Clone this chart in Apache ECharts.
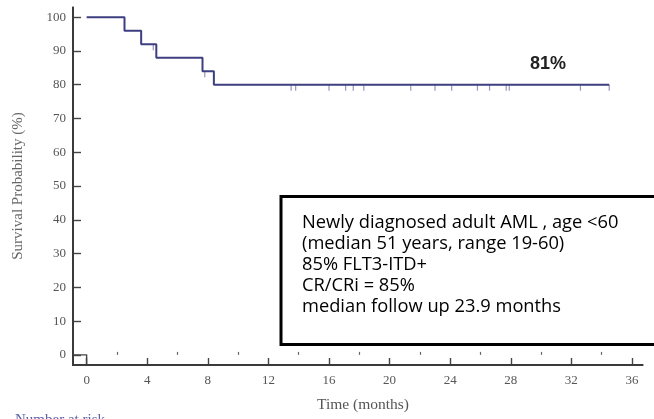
<!DOCTYPE html>
<html>
<head>
<meta charset="utf-8">
<script src="https://cdn.jsdelivr.net/npm/echarts@6/dist/echarts.min.js"></script>
<style>
html,body{margin:0;padding:0;background:#fff;}
#chart{width:654px;height:419px;}
</style>
</head>
<body>
<div id="chart"></div>
<script>
// Kaplan-Meier step data (months, survival %)
const kmTimes = [0, 2.5, 3.6, 4.6, 7.65, 8.4, 34.5];
const kmSurvival = [100, 96, 92, 88, 84, 80, 80];
// Censored observations (months)
const censorTimes = [4.4, 7.8, 13.5, 13.8, 16.0, 17.1, 17.6, 18.3, 21.4, 23.0, 24.1, 25.8, 26.6, 27.7, 27.9, 32.6, 34.5];
// Axis ticks
const xMajorTicks = [0, 4, 8, 12, 16, 20, 24, 28, 32, 36];
const xMinorTicks = [2, 6, 10, 14, 18, 22, 26, 30, 34];
const yTicks = [0, 10, 20, 30, 40, 50, 60, 70, 80, 90, 100];
const annotationLines = [
  'Newly diagnosed adult AML , age <60',
  '(median 51 years, range 19-60)',
  '85% FLT3-ITD+',
  'CR/CRi = 85%',
  'median follow up 23.9 months'
];
const finalLabel = '81%';

function levelAt(t) {
  let v = kmSurvival[0];
  for (let i = 0; i < kmTimes.length; i++) if (kmTimes[i] <= t) v = kmSurvival[i];
  return v;
}
const kmData = kmTimes.map((t, i) => [t, kmSurvival[i]]);
const censorData = censorTimes.map(t => [t, levelAt(t)]);
const xMin = -0.9, xMax = 36.73, yMin = -3, yMax = 103;
const originBracket = [[xMin, 0], [0, 0], [0, yMin]];

// fit box font to the reference text width
const cv = document.createElement('canvas').getContext('2d');
cv.font = '100px "Open Sans"';
const boxFont = Math.round(100 * 316 / cv.measureText(annotationLines[0]).width * 10) / 10;

const axisColor = '#444';
const serif = '"Liberation Serif", "DejaVu Serif", serif';
const chart = echarts.init(document.getElementById('chart'), null, {renderer: 'canvas'});
chart.setOption({
  animation: false,
  backgroundColor: '#fff',
  grid: {left: 73, right: 11, top: 7, bottom: 54, outerBoundsMode: 'none', containLabel: false},
  xAxis: [{
    type: 'value', min: xMin, max: xMax,
    name: 'Time (months)', nameLocation: 'middle', nameGap: 32,
    nameTextStyle: {fontFamily: serif, fontSize: 15.5, color: '#555', padding: [0, 0, 0, 10]},
    axisLine: {show: true, onZero: false, lineStyle: {color: axisColor, width: 1.6}},
    axisTick: {show: true, inside: true, length: 7, customValues: xMajorTicks, lineStyle: {color: axisColor, width: 1.4}},
    axisLabel: {customValues: xMajorTicks, fontFamily: serif, fontSize: 13, color: '#555', margin: 9},
    splitLine: {show: false}
  }, {
    type: 'value', min: xMin, max: xMax, position: 'bottom',
    axisLine: {show: false},
    axisTick: {show: true, inside: true, length: 3, customValues: xMinorTicks, lineStyle: {color: '#666', width: 1.2}},
    axisLabel: {show: false},
    splitLine: {show: false}
  }],
  yAxis: {
    type: 'value', min: yMin, max: yMax,
    name: 'Survival Probability (%)', nameLocation: 'middle', nameGap: 47,
    nameTextStyle: {fontFamily: serif, fontSize: 15, color: '#666'},
    axisLine: {show: true, onZero: false, lineStyle: {color: axisColor, width: 1.6}},
    axisTick: {show: true, inside: true, length: 8, customValues: yTicks, lineStyle: {color: axisColor, width: 1.4}},
    axisLabel: {customValues: yTicks, fontFamily: serif, fontSize: 13, color: '#555', margin: 7},
    splitLine: {show: false}
  },
  series: [{
    type: 'line', step: 'end', data: kmData, showSymbol: false,
    lineStyle: {color: '#3d3f80', width: 2}, z: 3
  }, {
    type: 'scatter', data: censorData, symbol: 'rect', symbolSize: [1.2, 6], symbolOffset: [0, 3],
    itemStyle: {color: '#7b7caa'}, z: 2
  }, {
    type: 'line', data: originBracket, showSymbol: false,
    lineStyle: {color: axisColor, width: 1.4}, z: 1
  }]
});

// axis lines drawn from the axis scale (frame corners)
const pBL = chart.convertToPixel({gridIndex: 0}, [xMin, yMin]);
const pTL = chart.convertToPixel({gridIndex: 0}, [xMin, yMax]);
const pBR = chart.convertToPixel({gridIndex: 0}, [xMax, yMin]);
const bx = Math.round(pBL[0]), by = Math.round(pBL[1]);

chart.setOption({
  graphic: [{
    type: 'rect', shape: {x: bx - 1, y: by - 1, width: Math.round(pBR[0]) - bx + 1, height: 2},
    style: {fill: '#3a3a3a'}, z: 50
  }, {
    type: 'rect', shape: {x: bx - 1, y: Math.round(pTL[1]), width: 2, height: by - Math.round(pTL[1]) + 1},
    style: {fill: '#3a3a3a'}, z: 50
  }, {
    type: 'rect', left: 279.5, top: 195,
    shape: {x: 0, y: 0, width: 380, height: 148},
    style: {fill: '#fff', stroke: '#000', lineWidth: 3}, z: 10
  }, {
    type: 'text', left: 302, top: 212,
    style: {text: annotationLines.join('\n'), font: boxFont + 'px "Open Sans"', lineHeight: 21, fill: '#000'}, z: 11
  }, {
    type: 'text', left: 530, top: 55,
    style: {text: finalLabel, font: 'bold 18px "Liberation Sans", Arial, sans-serif', fill: '#222'}, z: 11
  }, {
    type: 'text', left: 15, top: 413,
    style: {text: 'Number at risk', font: '15px "Liberation Serif", serif', fill: '#5a62a8'}, z: 11
  }]
});
</script>
</body>
</html>
